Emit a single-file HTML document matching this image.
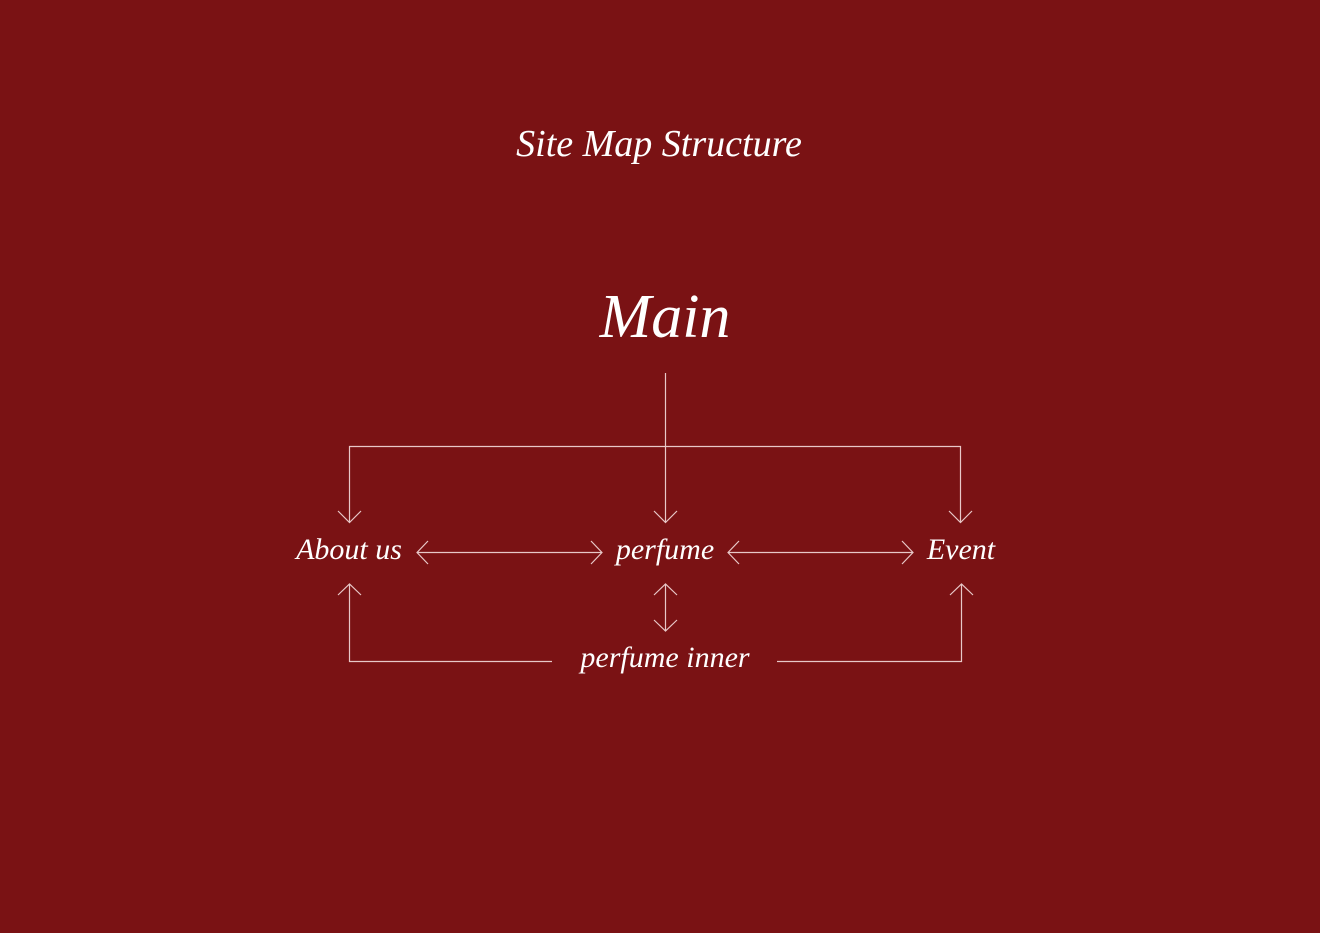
<!DOCTYPE html>
<html><head><style>
html,body{margin:0;padding:0;background:#7a1214;}
body{width:1320px;height:933px;overflow:hidden;position:relative;}
svg{position:absolute;left:0;top:0;}
text{font-family:"Liberation Serif",serif;font-style:italic;fill:#fff;}
</style></head><body>
<svg width="1320" height="933" viewBox="0 0 1320 933">
<rect width="1320" height="933" fill="#7a1214"/>
<text x="659" y="156" font-size="38" text-anchor="middle">Site Map Structure</text>
<text x="665" y="337" font-size="62" text-anchor="middle">Main</text>
<text x="349" y="559" font-size="30" text-anchor="middle">About us</text>
<text x="665" y="559" font-size="30" text-anchor="middle">perfume</text>
<text x="961" y="559" font-size="30" text-anchor="middle">Event</text>
<text x="665" y="667" font-size="30" text-anchor="middle">perfume inner</text>
<g stroke="#e8c8c8" stroke-width="1.2" fill="none">
<path d="M665.5 373V522M349.5 522V446.5H960.5V522"/>
<path d="M338 511l11.5 11.5L361 511M654 511l11.5 11.5L677 511M949 511l11.5 11.5L972 511"/>
<path d="M417 552.5H602M428 541l-11 11.5 11 11.5M591 541l11 11.5-11 11.5"/>
<path d="M728 552.5H913M739 541l-11 11.5 11 11.5M902 541l11 11.5-11 11.5"/>
<path d="M665.5 584V631M654 595l11.5-11 11.5 11M654 620l11.5 11 11.5-11"/>
<path d="M552 661.5H349.5V584M338 595l11.5-11 11.5 11"/>
<path d="M777 661.5H961.5V584M950 595l11.5-11 11.5 11"/>
</g>
</svg>
</body></html>
